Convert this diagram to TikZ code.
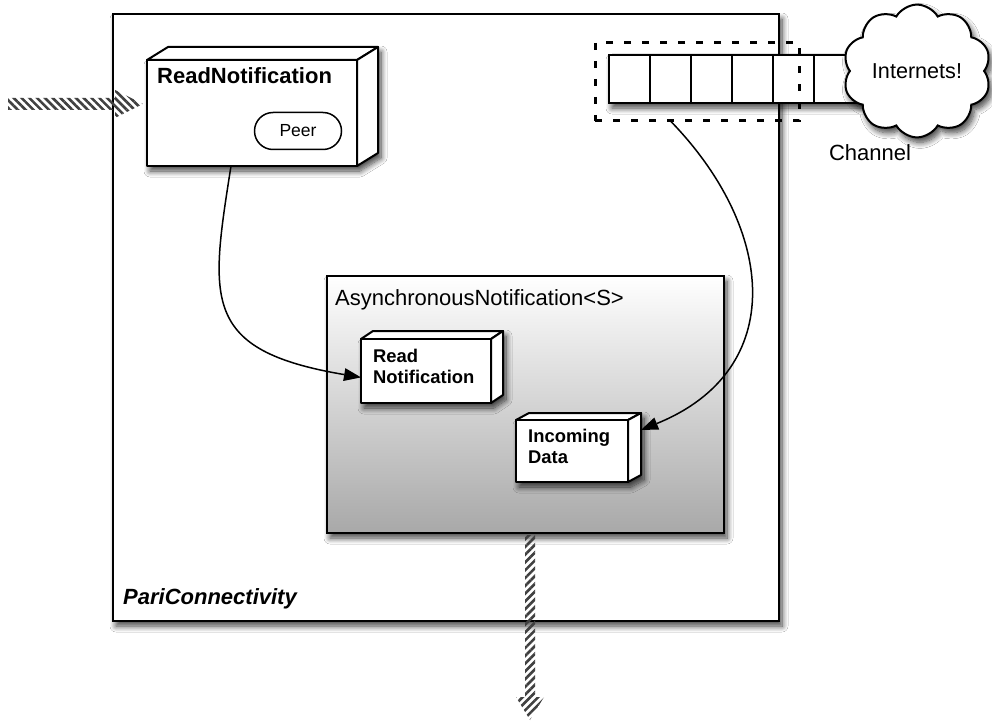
\documentclass[tikz,border=0pt]{standalone}
\usepackage{fontspec}
\setmainfont{Liberation Sans}
\usetikzlibrary{shapes.symbols,shapes.misc,shadows.blur,patterns.meta,calc,arrows.meta}

\tikzset{
  soft shadow/.style={blur shadow={shadow xshift=3pt, shadow yshift=-5pt,
      shadow blur radius=6pt, shadow blur steps=10, shadow opacity=75}},
  holder/.style={inner sep=0pt, outer sep=0pt, anchor=north west},
  face/.style={draw, line width=2pt, fill=white, line join=round},
  cell/.style={draw, line width=1.5pt, fill=white, minimum width=41pt,
      minimum height=48pt, inner sep=0pt, outer sep=0pt, anchor=north west},
  boxlabel/.style={anchor=base west, inner sep=0pt,
      font=\bfseries\fontsize{18.4}{22}\selectfont},
  plain/.style={inner sep=0pt, font=\fontsize{22}{26}\selectfont},
  hatch/.style={pattern={Lines[angle=#1, distance=5.5pt, line width=2.6pt]},
      pattern color=black!75},
  link/.style={line width=1.5pt,
      -{Triangle[length=17pt,width=13pt,fill=black,line width=0pt]}},
}

% a box drawn as a solid: front face given by the node #1, depth (#2,#3)
\newcommand\solidbox[3]{%
  \path[soft shadow, fill=white] (#1.south west) -- (#1.north west) -- ++(#2,#3)
     -- ($(#1.north east)+(#2,#3)$) -- ($(#1.south east)+(#2,#3)$)
     -- (#1.south east) -- cycle;
  \draw[face] (#1.north west) -- ++(#2,#3) -- ($(#1.north east)+(#2,#3)$)
     -- (#1.north east) -- cycle;
  \draw[face] (#1.north east) -- ++(#2,#3) -- ($(#1.south east)+(#2,#3)$)
     -- (#1.south east) -- cycle;
  \draw[face] (#1.north west) rectangle (#1.south east);
}

\begin{document}
\begin{tikzpicture}[x=1pt, y=-1pt]
  \useasboundingbox (0,0) rectangle (992,722);
  \fill[white] (0,0) rectangle (992,722);

  % outer component
  \node[holder, draw, line width=2pt, fill=white, soft shadow,
        minimum width=666pt, minimum height=607pt] (pari) at (113,14) {};
  \node[anchor=base west, inner sep=0pt,
        font=\bfseries\itshape\fontsize{22}{26}\selectfont] (parilabel)
        at (123,604) {PariConnectivity};

  % inner shaded component
  \node[holder, draw, line width=2pt, top color=white, middle color=black!7,
        bottom color=black!34, soft shadow,
        minimum width=397pt, minimum height=257pt] (async) at (327,276) {};
  \node[plain, anchor=base west] (asynclabel) at (335,305)
        {AsynchronousNotification<S>};

  % channel queue
  \node[holder, fill=white, soft shadow, minimum width=287pt,
        minimum height=48pt] (queue) at (609,55) {};
  \foreach \i in {1,...,7}
    \node[cell] (c\i) at ($(queue.north west)+({41*(\i-1)},0)$) {};

  % the network
  \node[cloud, cloud puffs=10, cloud puff arc=120, aspect=1.1, draw,
        line width=2pt, fill=white, soft shadow, inner sep=0pt,
        minimum width=148pt, minimum height=126pt,
        font=\fontsize{21.6}{24}\selectfont] (net) at (917,71) {Internets!};
  \node[plain] (chanlabel) at (870,153) {Channel};

  % channel selection
  \node[holder, draw, line width=3pt, dash pattern=on 7pt off 11pt,
        minimum width=204pt, minimum height=78pt] (chan) at (595,43) {};

  % ReadNotification with its peer
  \node[holder, minimum width=210pt, minimum height=106pt] (rn) at (147,60) {};
  \solidbox{rn}{21}{-13}
  \node[anchor=base west, inner sep=0pt,
        font=\bfseries\fontsize{22}{26}\selectfont] (rnlabel)
        at (157,84) {ReadNotification};
  \node[rounded rectangle, draw, line width=1.5pt, fill=white,
        minimum width=87pt, minimum height=37pt, inner sep=0pt,
        font=\fontsize{17.5}{20}\selectfont] (peer) at (298,131) {Peer};

  % inner notifications
  \node[holder, minimum width=130pt, minimum height=64pt] (rn2) at (361,339) {};
  \solidbox{rn2}{12}{-8}
  \node[boxlabel] (rn2a) at (373,362) {Read};
  \node[boxlabel] (rn2b) at (373,383) {Notification};

  \node[holder, minimum width=112pt, minimum height=62pt] (inc) at (516,420) {};
  \solidbox{inc}{13}{-7}
  \node[boxlabel] (inca) at (528,442) {Incoming};
  \node[boxlabel] (incb) at (528,463) {Data};

  % connectors
  \draw[link] ($(rn.south west)!0.4!(rn.south east)$)
     .. controls +(-21,134) and +(-160,-27) ..
     ($(rn2.north west)!0.6!(rn2.south west)$);
  \draw[link] ($(chan.south west)!0.37!(chan.south east)$)
     .. controls +(105,108) and +(148,-60) ..
     ($(inc.north east)!0.16!(inc.south east)+(13,0)$);

  % incoming and outgoing flow
  \coordinate (inTail) at (8,104);
  \coordinate (inTip) at (143,104);
  \fill[hatch=-45] (inTail) ++(0,-6) -- ($(inTip)+(-28,-6)$) -- ($(inTip)+(-28,-14)$)
     -- (inTip) -- ($(inTip)+(-28,14)$) -- ($(inTip)+(-28,6)$)
     -- ($(inTail)+(0,6)$) -- cycle;

  \coordinate (outTail) at (530,535);
  \coordinate (outTip) at (530,720);
  \fill[hatch=45] (outTail) ++(-5,0) -- ($(outTip)+(-5,-23)$) -- ($(outTip)+(-14,-23)$)
     -- (outTip) -- ($(outTip)+(14,-23)$) -- ($(outTip)+(5,-23)$)
     -- ($(outTail)+(5,0)$) -- cycle;
\end{tikzpicture}
\end{document}
